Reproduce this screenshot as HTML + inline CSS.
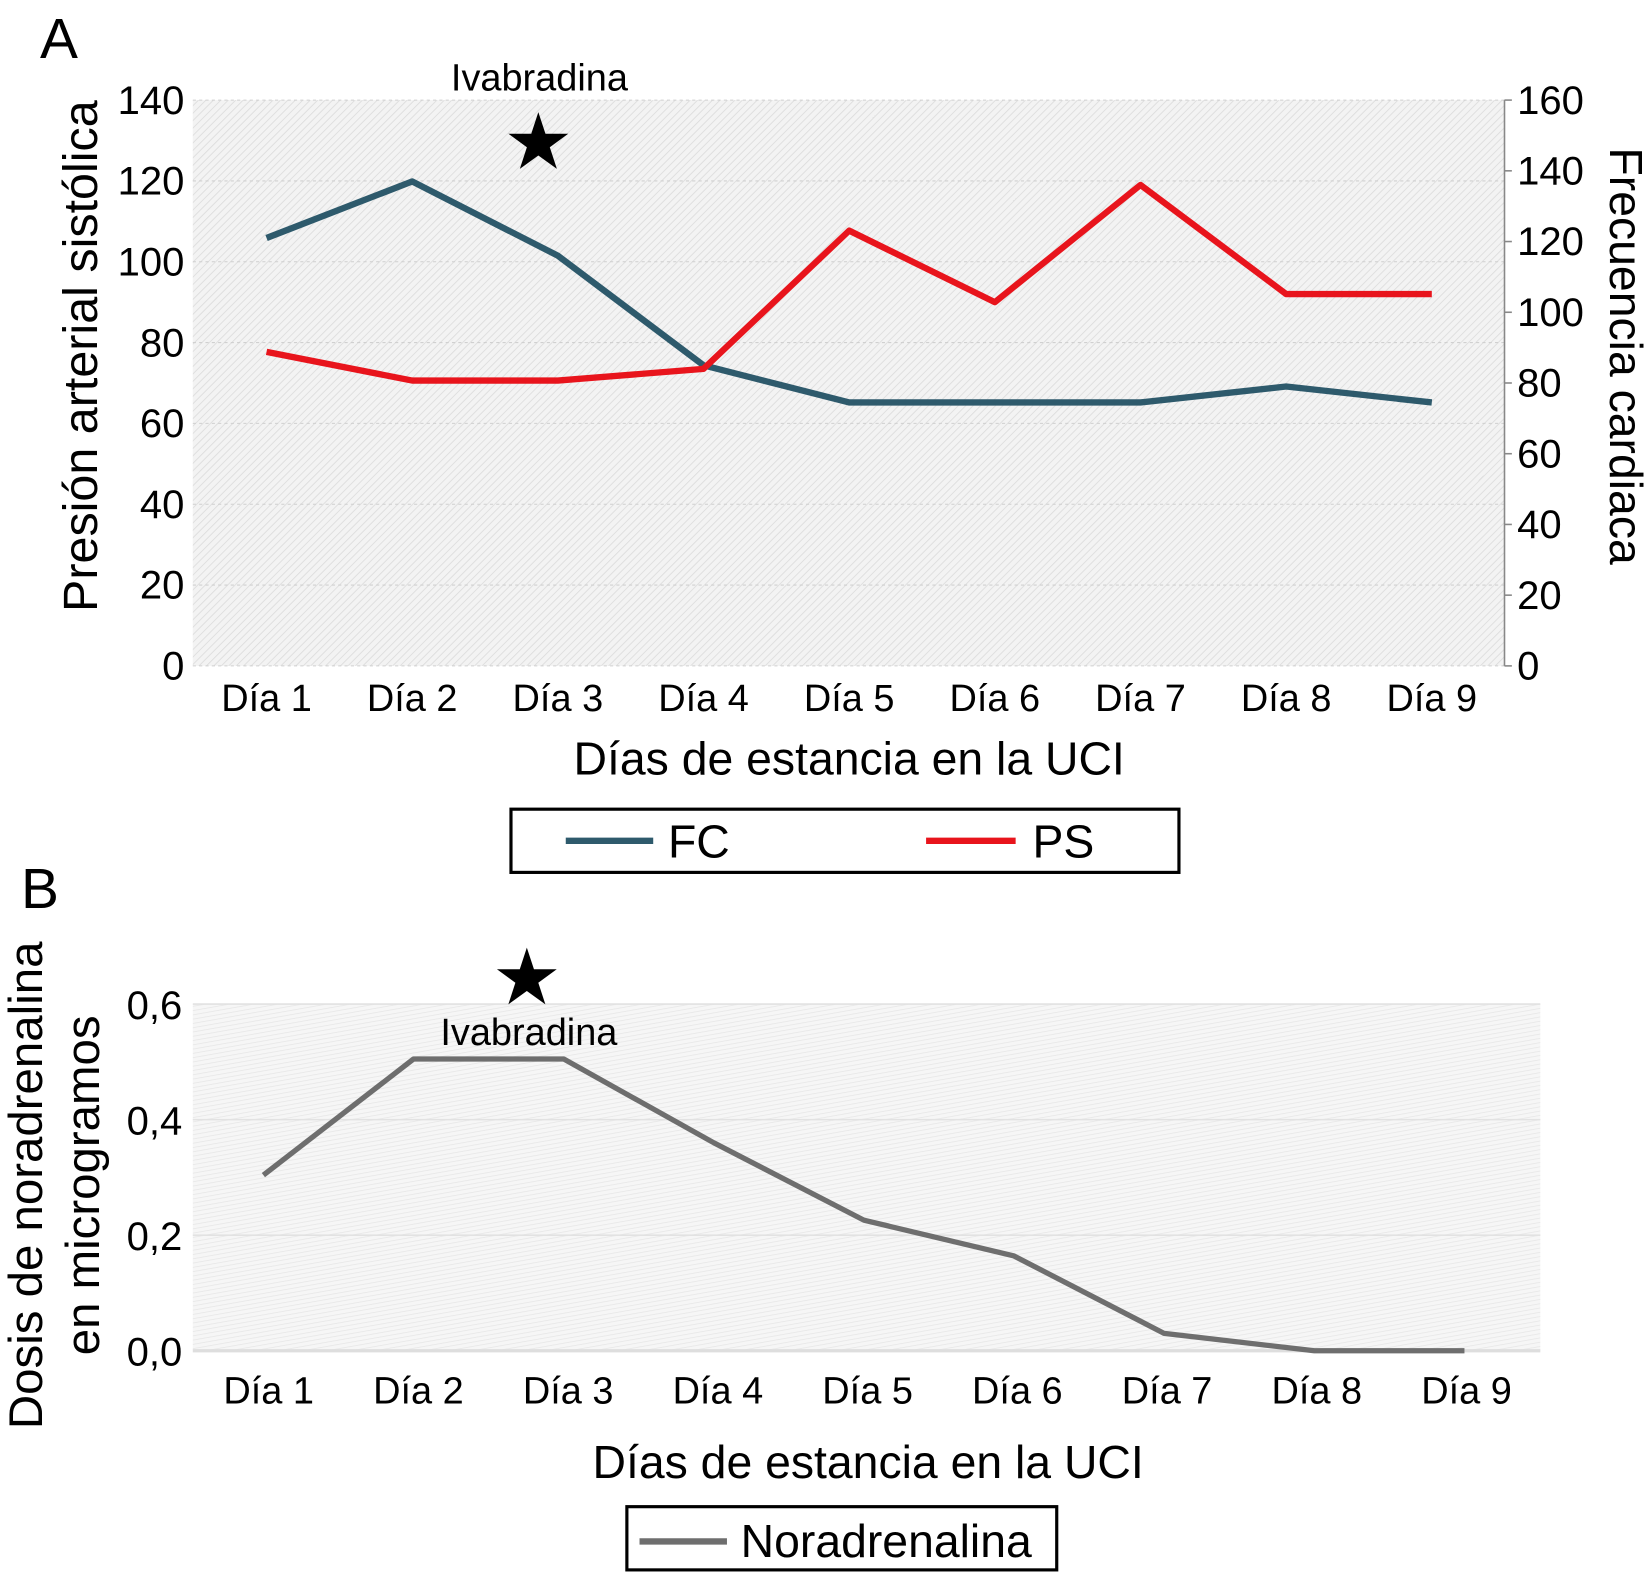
<!DOCTYPE html>
<html><head><meta charset="utf-8"><style>
html,body{margin:0;padding:0;background:#fff}
svg{display:block}
text{font-family:"Liberation Sans",Arial,sans-serif;fill:#000}
.n{font-family:"Liberation Sans Narrow","Liberation Sans",sans-serif}
</style></head><body>
<svg id="chart" width="1652" height="1572" viewBox="0 0 1568 1492" preserveAspectRatio="none" xmlns="http://www.w3.org/2000/svg">
<defs>
<pattern id="hatch" patternUnits="userSpaceOnUse" width="5" height="5" patternTransform="rotate(45)">
<rect width="5" height="5" fill="#f3f3f3"/><line x1="0" y1="0" x2="0" y2="5" stroke="#dcdcdc" stroke-width="1.6"/>
</pattern>
<pattern id="hatchB" patternUnits="userSpaceOnUse" width="4" height="4" patternTransform="rotate(80)">
<rect width="4" height="4" fill="#f6f6f6"/><line x1="0" y1="0" x2="0" y2="4" stroke="#e6e6e6" stroke-width="1.4"/>
</pattern>
</defs>
<g id="gA"></g>
<g id="gB"></g>
</svg>
<script>
const days = ["Día 1","Día 2","Día 3","Día 4","Día 5","Día 6","Día 7","Día 8","Día 9"];
const fcValues = [121,137,116,85,74.5,74.5,74.5,79,74.5];
const psValues = [77.7,70.6,70.6,73.5,107.7,90,119,92,92];
const leftTicks = [0,20,40,60,80,100,120,140];
const rightTicks = [0,20,40,60,80,100,120,140,160];
const noraValues = [0.304,0.505,0.505,0.36,0.226,0.164,0.03,0,0];
const noraTicks = [0,0.2,0.4,0.6];
const noraTickLabels = ["0,0","0,2","0,4","0,6"];

const NS="http://www.w3.org/2000/svg";
function mk(parent,tag,attrs,txt){const e=document.createElementNS(NS,tag);for(const k in attrs)e.setAttribute(k,attrs[k]);if(txt!==undefined)e.textContent=txt;parent.appendChild(e);return e;}

// ---- Chart A ----
const A=document.getElementById('gA');
const aL=183,aR=1428,aT=95,aB=632;
const axL=v=>aB-(v/140)*(aB-aT);
const axR=v=>aB-(v/160)*(aB-aT);
const axX=i=>253+i*(1359-253)/(days.length-1);
let bg=mk(A,'rect',{x:aL,y:aT,width:aR-aL,height:aB-aT,fill:'url(#hatch)'});


leftTicks.forEach(v=>{
  let g=mk(A,'line',{x1:aL,x2:aR,y1:axL(v),y2:axL(v),stroke:'#d0d0d0','stroke-dasharray':'3,3','stroke-width':1});
  
  
  let t=mk(A,'text',{x:175,y:axL(v)+13,'text-anchor':'end','font-size':38,class:'n'},String(v));
  
  
});
mk(A,'line',{x1:aR,x2:aR,y1:aT,y2:aB,stroke:'#888','stroke-width':1.5});
rightTicks.forEach(v=>{
  mk(A,'line',{x1:aR,x2:aR+7,y1:axR(v),y2:axR(v),stroke:'#888','stroke-width':1.5});
  let t=mk(A,'text',{x:1440,y:axR(v)+13,'font-size':38},String(v));
  
  
});
days.forEach((d,i)=>{
  let t=mk(A,'text',{x:axX(i),y:675,'text-anchor':'middle','font-size':36,class:'n'},d);
  
  
});
let fcL=mk(A,'polyline',{points:fcValues.map((v,i)=>axX(i)+','+axR(v)).join(' '),fill:'none',stroke:'#2e5a6c','stroke-width':6,'stroke-linejoin':'round'});


let psL=mk(A,'polyline',{points:psValues.map((v,i)=>axX(i)+','+axL(v)).join(' '),fill:'none',stroke:'#e8141c','stroke-width':6,'stroke-linejoin':'round'});


let la=mk(A,'text',{x:38,y:55,'font-size':54,class:'n'},'A');


let iv=mk(A,'text',{x:512,y:86,'text-anchor':'middle','font-size':36,class:'n'},'Ivabradina');


let st=mk(A,'text',{x:511,y:160,'text-anchor':'middle','font-size':74,'font-family':'DejaVu Sans'},'★');


let yl=mk(A,'text',{transform:'translate(92,338) rotate(-90)','text-anchor':'middle','font-size':46},'Presión arterial sistólica');


let yr=mk(A,'text',{transform:'translate(1528,338) rotate(90)','text-anchor':'middle','font-size':44},'Frecuencia cardiaca');


let xa=mk(A,'text',{x:806,y:735,'text-anchor':'middle','font-size':44},'Días de estancia en la UCI');


let lg=mk(A,'g',{});


mk(lg,'rect',{x:485,y:768,width:634,height:60,fill:'#fff',stroke:'#000','stroke-width':3});
mk(lg,'line',{x1:537,x2:620,y1:798,y2:798,stroke:'#2e5a6c','stroke-width':6});
let t1=mk(lg,'text',{x:634,y:814,'font-size':44},'FC');


mk(lg,'line',{x1:879,x2:964,y1:798,y2:798,stroke:'#e8141c','stroke-width':6});
let t2=mk(lg,'text',{x:980,y:814,'font-size':44},'PS');



// ---- Chart B ----
const B=document.getElementById('gB');
const bL=183,bR=1462,bT=953,bB=1282;
const byY=v=>bB-(v/0.6)*(bB-bT);
const bxX=i=>250+i*(1390-250)/(days.length-1);
let bgb=mk(B,'rect',{x:bL,y:bT,width:bR-bL,height:bB-bT,fill:'url(#hatchB)'});


noraTicks.forEach((v,i)=>{
  let g=mk(B,'line',{x1:bL,x2:bR,y1:byY(v),y2:byY(v),stroke:i===0?'#dedede':'#e2e2e2','stroke-width':i===0?3:1.5});
  
  
  let t=mk(B,'text',{x:173,y:byY(v)+14,'text-anchor':'end','font-size':38,class:'n'},noraTickLabels[i]);
  
  
});
days.forEach((d,i)=>{
  let t=mk(B,'text',{x:255+i*(1392-255)/(days.length-1),y:1332,'text-anchor':'middle','font-size':36,class:'n'},d);
  
  
});
let nl=mk(B,'polyline',{points:noraValues.map((v,i)=>bxX(i)+','+byY(v)).join(' '),fill:'none',stroke:'#6e6e6e','stroke-width':5,'stroke-linejoin':'round'});


let lb=mk(B,'text',{x:20,y:862,'font-size':54,class:'n'},'B');


let stb=mk(B,'text',{x:500,y:953,'text-anchor':'middle','font-size':74,'font-family':'DejaVu Sans'},'★');


let ivb=mk(B,'text',{x:502,y:992,'text-anchor':'middle','font-size':36,class:'n'},'Ivabradina');


let yb1=mk(B,'text',{transform:'translate(40,1125) rotate(-90)','text-anchor':'middle','font-size':45},'Dosis de noradrenalina');


let yb2=mk(B,'text',{transform:'translate(94,1125) rotate(-90)','text-anchor':'middle','font-size':45},'en microgramos');


let xb=mk(B,'text',{x:824,y:1403,'text-anchor':'middle','font-size':44,class:'n'},'Días de estancia en la UCI');


let lgb=mk(B,'g',{});


mk(lgb,'rect',{x:595,y:1430,width:408,height:60,fill:'#fff',stroke:'#000','stroke-width':3});
mk(lgb,'line',{x1:607,x2:690,y1:1463,y2:1463,stroke:'#6e6e6e','stroke-width':6});
let tb=mk(lgb,'text',{x:703,y:1478,'font-size':44,class:'n'},'Noradrenalina');


</script>
</body></html>
